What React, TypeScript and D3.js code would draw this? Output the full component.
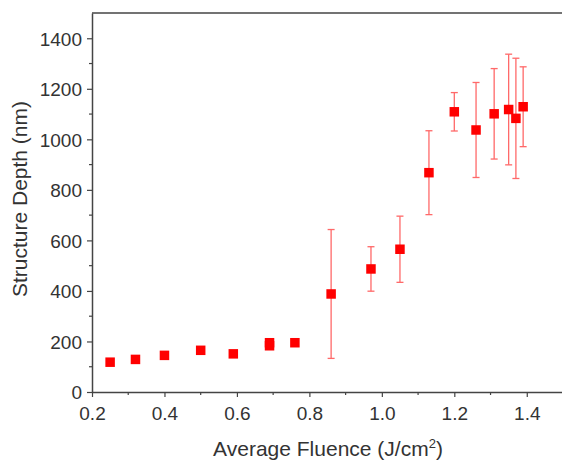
import React, { useRef, useEffect } from "react";
import * as d3 from "d3";

// fluence (J/cm2), depth (nm), error (nm)
const fluence = [0.25, 0.32, 0.40, 0.50, 0.59, 0.69, 0.69, 0.76, 0.86, 0.97, 1.05, 1.13, 1.20, 1.26, 1.31, 1.35, 1.37, 1.39];
const depth = [118, 129, 145, 165, 151, 183, 195, 195, 388, 487, 565, 868, 1109, 1037, 1101, 1118, 1083, 1129];
const depthErr = [0, 0, 0, 0, 0, 0, 0, 0, 255, 88, 131, 166, 76, 188, 179, 219, 238, 158];

const xTicks = [0.2, 0.4, 0.6, 0.8, 1.0, 1.2, 1.4];
const yTicks = [0, 200, 400, 600, 800, 1000, 1200, 1400];

const W = 562;
const H = 463;
const margin = { top: 13, right: -1, bottom: 71, left: 92 };

export default function App() {
  const svgRef = useRef<SVGSVGElement>(null);

  useEffect(() => {
    const svg = d3.select(svgRef.current);
    svg.selectAll("*").remove();

    const x = d3.scaleLinear().domain([0.2, 1.5]).range([margin.left, W - margin.right]);
    const y = d3.scaleLinear().domain([0, 1500]).range([H - margin.bottom, margin.top]);

    const axisColor = "#444";
    const font = "'Liberation Sans', Arial, sans-serif";

    // minor ticks
    const xMinor = d3.range(0.3, 1.5, 0.2);
    const yMinor = d3.range(100, 1500, 200);

    const gx = svg.append("g").attr("transform", `translate(0,${y(0)})`);
    gx.call(d3.axisBottom(x).tickValues(xTicks).tickFormat(d3.format(".1f")).tickSize(5).tickSizeOuter(0));
    gx.selectAll(".minor")
      .data(xMinor)
      .join("line")
      .attr("x1", (d) => x(d))
      .attr("x2", (d) => x(d))
      .attr("y1", 0)
      .attr("y2", 3);

    const gy = svg.append("g").attr("transform", `translate(${x(0.2)},0)`);
    gy.call(d3.axisLeft(y).tickValues(yTicks).tickFormat(d3.format("d")).tickSize(5).tickSizeOuter(0));
    gy.selectAll(".minor")
      .data(yMinor)
      .join("line")
      .attr("x1", 0)
      .attr("x2", -3)
      .attr("y1", (d) => y(d))
      .attr("y2", (d) => y(d));

    [gx, gy].forEach((g) => {
      g.select(".domain").attr("stroke", axisColor).attr("stroke-width", 1.5);
      g.selectAll("line").attr("stroke", axisColor).attr("stroke-width", 1.2);
      g.selectAll("text")
        .attr("fill", "#333")
        .style("font-family", font)
        .style("font-size", "19px");
    });
    gx.selectAll(".tick text").attr("y", 10).attr("dy", "0.95em");
    gy.selectAll(".tick text").attr("x", -10).attr("dy", "0.36em");

    // top frame
    svg.append("line")
      .attr("x1", x(0.2)).attr("x2", W)
      .attr("y1", y(1500)).attr("y2", y(1500))
      .attr("stroke", axisColor).attr("stroke-width", 1.5);

    const data = fluence.map((f, i) => ({ f, d: depth[i], e: depthErr[i] }));
    const withErr = data.filter((p) => p.e > 0);

    const eb = svg.append("g").attr("stroke", "#f44").attr("stroke-width", 1.3).attr("opacity", 0.8);
    eb.selectAll(".v").data(withErr).join("line")
      .attr("x1", (p) => x(p.f)).attr("x2", (p) => x(p.f))
      .attr("y1", (p) => y(p.d - p.e)).attr("y2", (p) => y(p.d + p.e));
    eb.selectAll(".top").data(withErr).join("line")
      .attr("x1", (p) => x(p.f) - 3.5).attr("x2", (p) => x(p.f) + 3.5)
      .attr("y1", (p) => y(p.d + p.e)).attr("y2", (p) => y(p.d + p.e));
    eb.selectAll(".bot").data(withErr).join("line")
      .attr("x1", (p) => x(p.f) - 3.5).attr("x2", (p) => x(p.f) + 3.5)
      .attr("y1", (p) => y(p.d - p.e)).attr("y2", (p) => y(p.d - p.e));

    const s = 9.5;
    svg.append("g").selectAll("rect").data(data).join("rect")
      .attr("x", (p) => x(p.f) - s / 2)
      .attr("y", (p) => y(p.d) - s / 2)
      .attr("width", s).attr("height", s)
      .attr("fill", "#ff0000");

    svg.append("text")
      .attr("x", 328).attr("y", 456)
      .attr("text-anchor", "middle")
      .attr("fill", "#333")
      .style("font-family", font)
      .style("font-size", "21px")
      .text("Average Fluence (J/cm")
      .append("tspan").attr("dy", -8).style("font-size", "13px").text("2")
      .select(function () { return this.parentNode as any; })
      .append("tspan").attr("dy", 8).text(")");

    svg.append("text")
      .attr("transform", `translate(27,${199}) rotate(-90)`)
      .attr("text-anchor", "middle")
      .attr("fill", "#333")
      .style("font-family", font)
      .style("font-size", "21px")
      .text("Structure Depth (nm)");
  }, []);

  return (
    <div style={{ position: "absolute", left: 0, top: 0 }}>
      <svg ref={svgRef} width={W} height={H} style={{ display: "block", background: "#fff" }} />
    </div>
  );
}
